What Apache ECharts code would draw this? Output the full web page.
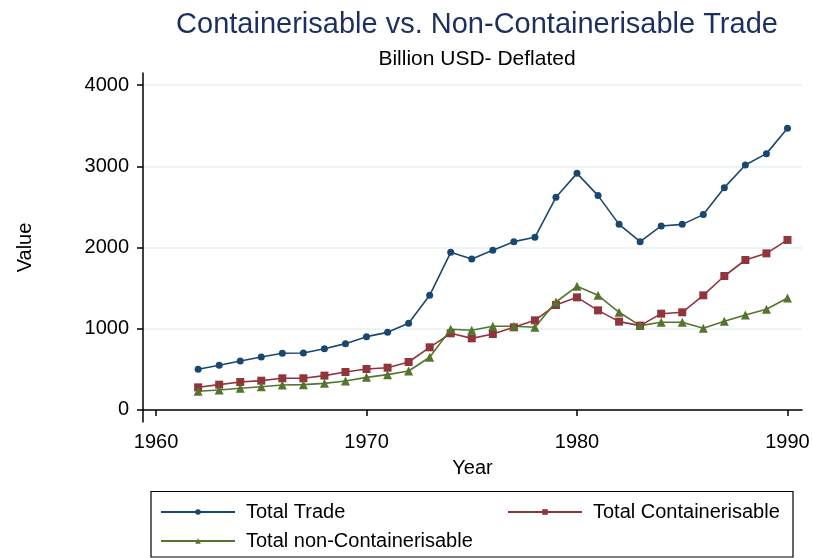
<!DOCTYPE html>
<html>
<head>
<meta charset="utf-8">
<script src="https://cdn.jsdelivr.net/npm/echarts@6/dist/echarts.min.js"></script>
<style>
  html, body { margin: 0; padding: 0; background: #fff; }
  #chart { width: 813px; height: 558px; }
</style>
</head>
<body>
<div id="chart"></div>
<script>
// values, billion USD (deflated)
const years = [1962, 1963, 1964, 1965, 1966, 1967, 1968, 1969, 1970, 1971,
  1972, 1973, 1974, 1975, 1976, 1977, 1978, 1979, 1980, 1981,
  1982, 1983, 1984, 1985, 1986, 1987, 1988, 1989, 1990];
const totalTrade = [501, 550, 603, 653, 698, 702, 755, 817, 903, 956,
  1067, 1412, 1942, 1860, 1966, 2073, 2127, 2619, 2914, 2640,
  2286, 2073, 2266, 2286, 2406, 2738, 3017, 3157, 3469];
const totalCont = [279, 312, 345, 361, 390, 390, 423, 468, 505, 521,
  591, 772, 944, 882, 936, 1018, 1104, 1293, 1387, 1227,
  1088, 1039, 1186, 1203, 1412, 1650, 1847, 1929, 2094];
const totalNonCont = [230, 246, 267, 287, 308, 312, 328, 357, 402, 435,
  480, 649, 994, 981, 1031, 1031, 1018, 1330, 1523, 1412,
  1203, 1039, 1080, 1080, 1006, 1092, 1170, 1240, 1379];
const xTicks = [1960, 1970, 1980, 1990];
const yTicks = [0, 1000, 2000, 3000, 4000];

const font = "'Liberation Sans', Arial, sans-serif";
const pairs = (vals) => years.map((y, i) => [y, vals[i]]);

const chart = echarts.init(document.getElementById("chart"));

// one legend per item so the boxes line up like the original two-column key
const legendItem = (name, left, top) => ({
  data: [name],
  left: left, top: top,
  padding: 0,
  itemWidth: 74, itemHeight: 7, itemGap: 5,
  textStyle: { fontFamily: font, fontSize: 20, color: "#000", padding: [0, 0, 0, 6] },
});

const option = {
  animation: false,
  backgroundColor: "#fff",
  textStyle: { fontFamily: font },
  title: [
    {
      text: "Containerisable vs. Non-Containerisable Trade",
      left: 472, top: 5, textAlign: "center",
      textStyle: { fontFamily: font, fontSize: 29, fontWeight: "normal", color: "#1c2f5e" },
    },
    {
      text: "Billion USD- Deflated",
      left: 472, top: 44, textAlign: "center",
      textStyle: { fontFamily: font, fontSize: 21, fontWeight: "normal", color: "#000" },
    },
  ],
  grid: { left: 143, right: 11, top: 73, bottom: 136, containLabel: false },
  xAxis: {
    type: "value",
    min: 1959.38,
    max: 1990.69,
    name: "Year",
    nameLocation: "middle",
    nameGap: 36,
    nameTextStyle: { fontFamily: font, fontSize: 20, color: "#000" },
    axisLine: { show: true, lineStyle: { color: "#000", width: 1.5 } },
    axisTick: { show: true, length: 6, customValues: xTicks, lineStyle: { color: "#000", width: 1.5 } },
    axisLabel: {
      customValues: xTicks, fontSize: 20, color: "#000", margin: 10, fontFamily: font,
      formatter: (v) => String(v),
    },
    splitLine: { show: false },
  },
  yAxis: {
    type: "value",
    min: -148,
    max: 4150,
    name: "Value",
    nameLocation: "middle",
    nameGap: 108,
    nameRotate: 90,
    nameTextStyle: { fontFamily: font, fontSize: 20, color: "#000" },
    axisLine: { show: true, lineStyle: { color: "#000", width: 1.5 } },
    axisTick: { show: true, length: 6, customValues: yTicks, lineStyle: { color: "#000", width: 1.5 } },
    axisLabel: {
      customValues: yTicks, fontSize: 20, color: "#000", margin: 14, fontFamily: font,
      formatter: (v) => String(v),
    },
    splitLine: { show: true, lineStyle: { color: "#e6eff1", width: 1.5 } },
  },
  legend: [
    legendItem("Total Trade", 160, 502),
    legendItem("Total Containerisable", 507, 502),
    legendItem("Total non-Containerisable", 160, 531),
  ],
  graphic: [
    {
      type: "rect",
      shape: { x: 151, y: 491.5, width: 642, height: 65.5 },
      style: { fill: "none", stroke: "#000", lineWidth: 1.2 },
      silent: true,
    },
  ],
  series: [
    {
      name: "Total Trade",
      type: "line",
      data: pairs(totalTrade),
      symbol: "circle",
      symbolSize: 7,
      itemStyle: { color: "#1a476f" },
      lineStyle: { color: "#1a476f", width: 1.6 },
    },
    {
      name: "Total Containerisable",
      type: "line",
      data: pairs(totalCont),
      symbol: "rect",
      symbolSize: 8,
      itemStyle: { color: "#90353b" },
      lineStyle: { color: "#90353b", width: 1.6 },
    },
    {
      name: "Total non-Containerisable",
      type: "line",
      data: pairs(totalNonCont),
      symbol: "triangle",
      symbolSize: 9,
      itemStyle: { color: "#55752f" },
      lineStyle: { color: "#55752f", width: 1.6 },
    },
  ],
};

chart.setOption(option);
</script>
</body>
</html>
